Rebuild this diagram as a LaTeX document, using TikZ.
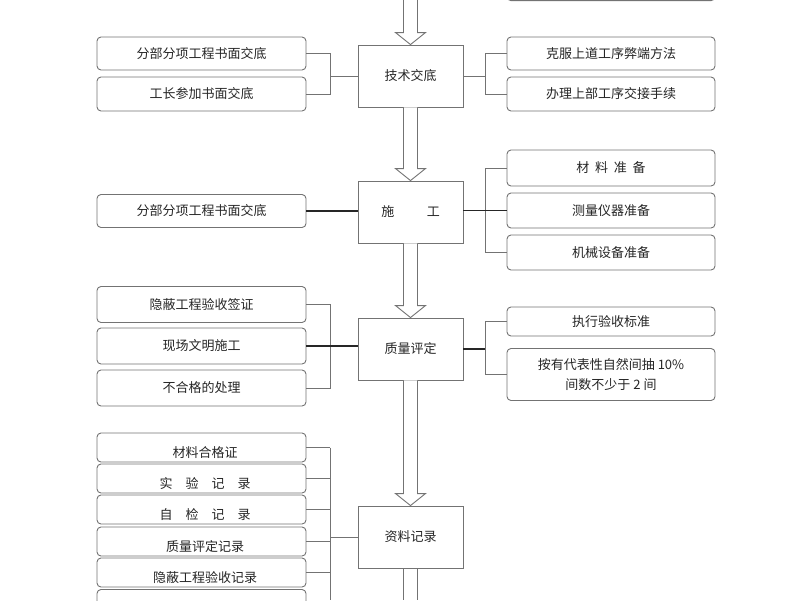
\documentclass[tikz,border=0pt]{standalone}
\usepackage{fontspec}
\setmainfont{Noto Sans CJK SC}
\begin{document}
\begin{tikzpicture}[x=1pt,y=-1pt,
  box/.style={draw=black!55,line width=0.9pt,rounded corners=4pt,fill=white,inner sep=0pt,font=\fontsize{13}{20}\selectfont,text=black!85,align=center},
  lb/.style={box,minimum width=209pt},
  rb/.style={box,minimum width=208pt},
  cb/.style={draw=black!55,line width=0.9pt,minimum width=105pt,minimum height=62pt,inner sep=0pt,font=\fontsize{13}{15}\selectfont,text=black!85},
  con/.style={draw=black!55,line width=0.9pt},
  thk/.style={draw=black!85,line width=1.4pt},
  harrow/.style={draw=black!55,line width=0.9pt,fill=white}]
\useasboundingbox (0,0) rectangle (800,600);
\coordinate (bl) at (330,0);
\coordinate (br) at (485,0);
\coordinate (top) at (410.5,0);
\coordinate (bot) at (410.5,600);
% central boxes
\node[cb] (T1) at (410.5,76) {技术交底};
\node[cb] (T2) at (410.5,212) {施\hspace{2.5em}工};
\node[cb] (T3) at (410.5,349) {质量评定};
\node[cb] (T4) at (410.5,537) {资料记录};
% top partial box
\draw[draw=black!55,line width=1.2pt,rounded corners=4pt] (507,-30) rectangle (715,0.5);
% hollow arrows
\newcommand\hollow[2]{\draw[harrow] ([xshift=-7pt]#1) -- ([xshift=-7pt,yshift=12pt]#2) -- ([xshift=-15pt,yshift=12pt]#2) -- (#2) -- ([xshift=15pt,yshift=12pt]#2) -- ([xshift=7pt,yshift=12pt]#2) -- ([xshift=7pt]#1);}
\hollow{top}{T1.north}
\hollow{T1.south}{T2.north}
\hollow{T2.south}{T3.north}
\hollow{T3.south}{T4.north}
\draw[harrow] ([xshift=-7pt]T4.south) -- ([xshift=-7pt]bot) ([xshift=7pt]T4.south) -- ([xshift=7pt]bot);
% group 1
\node[lb,minimum height=33pt] (a1) at (201.5,53.5) {分部分项工程书面交底};
\node[lb,minimum height=34pt] (a2) at (201.5,94) {工长参加书面交底};
\node[rb,minimum height=33pt] (b1) at (611,53.5) {克服上道工序弊端方法};
\node[rb,minimum height=34pt] (b2) at (611,94) {办理上部工序交接手续};
\draw[con] (a1.east) -- (a1.east -| bl) -- (a2.east -| bl) -- (a2.east);
\draw[con] (T1.west -| bl) -- (T1.west);
\draw[con] (b1.west) -- (b1.west -| br) -- (b2.west -| br) -- (b2.west);
\draw[con] (T1.east) -- (T1.east -| br);
% group 2
\node[lb,minimum height=33pt] (c1) at (201.5,211) {分部分项工程书面交底};
\node[rb,minimum height=36pt] (d1) at (611,168) {材\ \ 料\ \ 准\ \ 备};
\node[rb,minimum height=35pt] (d2) at (611,210.5) {测量仪器准备};
\node[rb,minimum height=35pt] (d3) at (611,252.5) {机械设备准备};
\draw[thk] (c1.east) -- (c1.east -| T2.west);
\draw[con] (d1.west) -- (d1.west -| br) -- (d3.west -| br) -- (d3.west);
\draw[thk] (T2.east |- d2.west) -- (d2.west);
% group 3
\node[lb,minimum height=36pt] (e1) at (201.5,304.5) {隐蔽工程验收签证};
\node[lb,minimum height=36pt] (e2) at (201.5,346) {现场文明施工};
\node[lb,minimum height=36pt] (e3) at (201.5,388) {不合格的处理};
\draw[con] (e1.east) -- (e1.east -| bl) -- (e3.east -| bl) -- (e3.east);
\draw[thk] (e2.east) -- (e2.east -| T3.west);
\node[rb,minimum height=29pt] (f1) at (611,321.5) {执行验收标准};
\node[rb,minimum height=52pt] (f2) at (611,374.5) {按有代表性自然间抽 10\%\\间数不少于 2 间};
\draw[con] (f1.west) -- (f1.west -| br) -- (br |- f2.west) -- (f2.west);
\draw[thk] (T3.east) -- (T3.east -| br);
% group 4
\foreach \n/\y/\t in {g1/447.5/材料合格证, g2/478.5/实\quad 验\quad 记\quad 录, g3/509.5/自\quad 检\quad 记\quad 录, g4/541.5/质量评定记录, g5/572.5/隐蔽工程验收记录, g6/604/{}}{
  \node[lb,minimum height=29pt] (\n) at (201.5,\y) {};
  \node[font=\fontsize{13}{15}\selectfont,text=black!85,anchor=base] (\n t) at (205,\y+10) {\t};
  \draw[con] (\n.east) -- (\n.east -| bl);
}
\draw[con] (g1.east -| bl) -- (bl |- bot);
\draw[con] (T4.west -| bl) -- (T4.west);
\end{tikzpicture}
\end{document}
